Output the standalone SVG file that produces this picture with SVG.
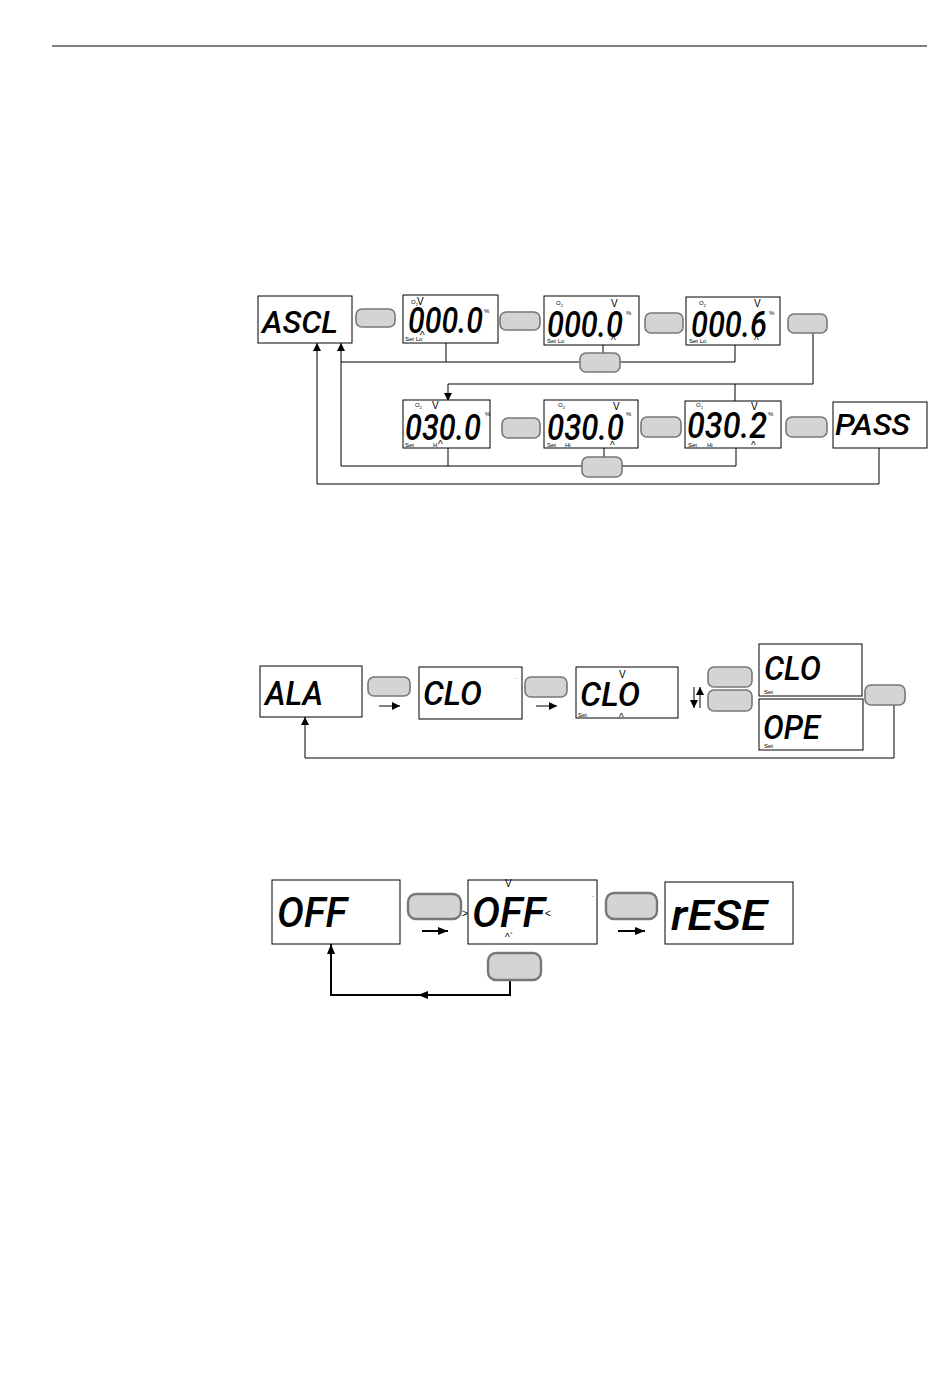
<svg xmlns="http://www.w3.org/2000/svg" width="950" height="1387" viewBox="0 0 950 1387">
<style>
.box{fill:#fff;stroke:#000;stroke-width:1}
.btn{fill:#d4d4d4;stroke:#777;stroke-width:1.6}
.btn3{fill:#d4d4d4;stroke:#777;stroke-width:2.4}
.seg{font-family:Roboto,"Liberation Sans",sans-serif;font-style:italic;font-weight:500;fill:#000}
.sm{font-family:"Liberation Sans",Arial,sans-serif;font-size:6px;fill:#000}
.mk{font-family:"Liberation Sans",Arial,sans-serif;font-size:10px;fill:#000}
.ln{fill:none;stroke:#000;stroke-width:1}
.ln2{fill:none;stroke:#000;stroke-width:2}
</style>
<defs>
<marker id="ah" viewBox="0 0 10 10" refX="10" refY="5" markerWidth="8" markerHeight="8" markerUnits="userSpaceOnUse" orient="auto"><path d="M0,0 L10,5 L0,10 z" fill="#000"/></marker>
<marker id="ah2" viewBox="0 0 10 10" refX="10" refY="5" markerWidth="10" markerHeight="10" markerUnits="userSpaceOnUse" orient="auto"><path d="M0,1 L10,5 L0,9 z" fill="#000"/></marker>
</defs>
<line x1="52" y1="46" x2="927" y2="46" stroke="#000" stroke-width="1"/>

<!-- Section 1 connectors -->
<g id="connectors1">
<polyline class="ln" points="446,343 446,362 579,362"/>
<polyline class="ln" points="341,362 446,362"/>
<line class="ln" x1="341" y1="362" x2="341" y2="343" marker-end="url(#ah)"/>
<line class="ln" x1="603" y1="345" x2="603" y2="353"/>
<polyline class="ln" points="735,345 735,362 620,362"/>
<polyline class="ln" points="813,333 813,384 448,384"/>
<line class="ln" x1="448" y1="384" x2="448" y2="401" marker-end="url(#ah)"/>
<line class="ln" x1="735" y1="384" x2="735" y2="401"/>
<polyline class="ln" points="448,448 448,466 341,466 341,362"/>
<line class="ln" x1="448" y1="466" x2="582" y2="466"/>
<line class="ln" x1="604" y1="448" x2="604" y2="457"/>
<polyline class="ln" points="736,448 736,466 622,466"/>
<polyline class="ln" points="879,448 879,484 317,484"/>
<line class="ln" x1="317" y1="484" x2="317" y2="343" marker-end="url(#ah)"/>
</g>

<g id="n-ascl"><rect class="box" x="258" y="296" width="94" height="47"/>
<text class="seg" x="262" y="333" font-size="32" textLength="76" lengthAdjust="spacingAndGlyphs">ASCL</text></g>
<g id="b1"><rect class="btn" x="356" y="309" width="39" height="18" rx="6"/></g>

<g id="n-lo1"><rect class="box" x="403" y="295" width="95" height="48"/>
<text class="seg" x="408" y="333" font-size="36" textLength="75" lengthAdjust="spacingAndGlyphs">000.0</text>
<text class="sm" x="411" y="304">O<tspan font-size="4" dy="1.5">2</tspan></text>
<text class="mk" x="417" y="305" font-size="8">V</text>
<text class="sm" x="484" y="313">%</text>
<text class="sm" x="405" y="341">Set Lo</text>
<text class="mk" x="420" y="339" font-size="7">^</text></g>
<g id="b2"><rect class="btn" x="500" y="312" width="40" height="18" rx="6"/></g>

<g id="n-lo2"><rect class="box" x="544" y="296" width="95" height="49"/>
<text class="seg" x="547" y="337" font-size="36" textLength="76" lengthAdjust="spacingAndGlyphs">000.0</text>
<text class="sm" x="556" y="305">O<tspan font-size="4" dy="1.5">2</tspan></text>
<text class="mk" x="611" y="307" font-size="10">V</text>
<text class="sm" x="626" y="315">%</text>
<text class="sm" x="547" y="343">Set Lo</text>
<text class="mk" x="611" y="344" font-size="10">^</text></g>
<g id="b3"><rect class="btn" x="645" y="313" width="38" height="20" rx="6"/></g>

<g id="n-lo3"><rect class="box" x="686" y="297" width="94" height="48"/>
<text class="seg" x="691" y="337" font-size="36" textLength="76" lengthAdjust="spacingAndGlyphs">000.6</text>
<text class="sm" x="699" y="305">O<tspan font-size="4" dy="1.5">2</tspan></text>
<text class="mk" x="754" y="307" font-size="10">V</text>
<text class="sm" x="769" y="315">%</text>
<text class="sm" x="689" y="343">Set Lo</text>
<text class="mk" x="754" y="344" font-size="10">^</text></g>
<g id="b4"><rect class="btn" x="788" y="314" width="39" height="19" rx="6"/></g>
<g id="b-lo"><rect class="btn" x="580" y="353" width="40" height="19" rx="6"/></g>

<g id="n-hi1"><rect class="box" x="403" y="400" width="87" height="48"/>
<text class="seg" x="405" y="440" font-size="36" textLength="76" lengthAdjust="spacingAndGlyphs">030.0</text>
<text class="sm" x="415" y="407">O<tspan font-size="4" dy="1.5">2</tspan></text>
<text class="mk" x="432" y="409" font-size="9">V</text>
<text class="sm" x="485" y="416">%</text>
<text class="sm" x="405" y="447">Set</text>
<text class="sm" x="433" y="447">H</text>
<text class="mk" x="438" y="448" font-size="8">^</text></g>
<g id="b5"><rect class="btn" x="502" y="418" width="38" height="20" rx="6"/></g>

<g id="n-hi2"><rect class="box" x="544" y="400" width="94" height="48"/>
<text class="seg" x="547" y="440" font-size="36" textLength="77" lengthAdjust="spacingAndGlyphs">030.0</text>
<text class="sm" x="558" y="407">O<tspan font-size="4" dy="1.5">2</tspan></text>
<text class="mk" x="613" y="410" font-size="10">V</text>
<text class="sm" x="626" y="416">%</text>
<text class="sm" x="547" y="447">Set</text>
<text class="sm" x="565" y="447">Hi</text>
<text class="mk" x="610" y="449" font-size="10">^</text></g>
<g id="b6"><rect class="btn" x="641" y="417" width="40" height="20" rx="6"/></g>

<g id="n-hi3"><rect class="box" x="685" y="401" width="96" height="47"/>
<text class="seg" x="687" y="438" font-size="36" textLength="80" lengthAdjust="spacingAndGlyphs">030.2</text>
<text class="sm" x="696" y="407">O<tspan font-size="4" dy="1.5">2</tspan></text>
<text class="mk" x="751" y="410" font-size="10">V</text>
<text class="sm" x="768" y="416">%</text>
<text class="sm" x="688" y="447">Set</text>
<text class="sm" x="707" y="447">Hi</text>
<text class="mk" x="751" y="449" font-size="10">^</text></g>
<g id="b7"><rect class="btn" x="786" y="417" width="41" height="20" rx="6"/></g>
<g id="b-hi"><rect class="btn" x="582" y="457" width="40" height="20" rx="6"/></g>

<g id="n-pass"><rect class="box" x="833" y="402" width="94" height="46"/>
<text class="seg" x="835" y="435" font-size="30" textLength="75" lengthAdjust="spacingAndGlyphs">PASS</text></g>

<!-- Section 2 -->
<g id="connectors2">
<polyline class="ln" points="894,705 894,758 305,758"/>
<line class="ln" x1="305" y1="758" x2="305" y2="717" marker-end="url(#ah)"/>
<line class="ln" x1="379" y1="706" x2="400" y2="706" marker-end="url(#ah)"/>
<line class="ln" x1="536" y1="706" x2="557" y2="706" marker-end="url(#ah)"/>
<line class="ln" x1="694" y1="687" x2="694" y2="708" marker-end="url(#ah)"/>
<line class="ln" x1="700" y1="708" x2="700" y2="687" marker-end="url(#ah)"/>
</g>
<g id="n-ala"><rect class="box" x="260" y="666" width="102" height="51"/>
<text class="seg" x="265" y="705" font-size="34" textLength="58" lengthAdjust="spacingAndGlyphs">ALA</text></g>
<g id="b8"><rect class="btn" x="368" y="677" width="42" height="19" rx="6"/></g>
<g id="n-clo1"><rect class="box" x="419" y="667" width="103" height="52"/>
<text class="seg" x="423" y="705" font-size="34" textLength="59" lengthAdjust="spacingAndGlyphs">CLO</text>
<text class="sm" x="515" y="682">`</text></g>
<g id="b9"><rect class="btn" x="525" y="677" width="42" height="20" rx="6"/></g>
<g id="n-clo2"><rect class="box" x="576" y="667" width="102" height="51"/>
<text class="seg" x="580" y="706" font-size="34" textLength="60" lengthAdjust="spacingAndGlyphs">CLO</text>
<text class="mk" x="619" y="678" font-size="10">V</text>
<text class="mk" x="619" y="721" font-size="10">^</text>
<text class="sm" x="578" y="717">Set</text></g>
<g id="b10"><rect class="btn" x="708" y="667" width="44" height="20" rx="6"/><rect class="btn" x="708" y="690" width="44" height="21" rx="6"/></g>
<g id="n-clo3"><rect class="box" x="759" y="644" width="103" height="52"/>
<text class="seg" x="764" y="680" font-size="34" textLength="57" lengthAdjust="spacingAndGlyphs">CLO</text>
<text class="sm" x="764" y="694">Set</text></g>
<g id="n-ope"><rect class="box" x="759" y="699" width="104" height="51"/>
<text class="seg" x="763" y="739" font-size="34" textLength="57" lengthAdjust="spacingAndGlyphs">OPE</text>
<text class="sm" x="764" y="748">Set</text></g>
<g id="b11"><rect class="btn" x="865" y="685" width="40" height="20" rx="6"/></g>

<!-- Section 3 -->
<g id="connectors3">
<polyline class="ln2" points="510,980 510,995 420,995"/>
<line class="ln2" x1="431" y1="995" x2="418" y2="995" marker-end="url(#ah2)"/>
<polyline class="ln2" points="420,995 331,995 331,955"/>
<line class="ln2" x1="331" y1="960" x2="331" y2="944" marker-end="url(#ah2)"/>
<line class="ln2" x1="422" y1="931" x2="448" y2="931" marker-end="url(#ah2)"/>
<line class="ln2" x1="618" y1="931" x2="645" y2="931" marker-end="url(#ah2)"/>
</g>
<g id="n-off1"><rect class="box" x="272" y="880" width="128" height="64"/>
<text class="seg" x="277" y="927" font-size="42" textLength="70" lengthAdjust="spacingAndGlyphs">OFF</text></g>
<g id="b12"><rect class="btn3" x="408" y="894" width="53" height="25" rx="8"/></g>
<g id="n-off2"><rect class="box" x="468" y="880" width="129" height="64"/>
<text class="seg" x="472" y="927" font-size="42" textLength="73" lengthAdjust="spacingAndGlyphs">OFF</text>
<text class="mk" x="462" y="917" font-size="12">&gt;</text>
<text class="mk" x="545" y="917" font-size="12">&lt;</text>
<text class="mk" x="505" y="887" font-size="10">V</text>
<text class="mk" x="505" y="941" font-size="10">^`</text>
<text class="sm" x="592" y="900">`</text></g>
<g id="b13"><rect class="btn3" x="606" y="893" width="51" height="26" rx="8"/></g>
<g id="n-rese"><rect class="box" x="665" y="882" width="128" height="62"/>
<text class="seg" x="671" y="930" font-size="42" textLength="96" lengthAdjust="spacingAndGlyphs">rESE</text></g>
<g id="b14"><rect class="btn3" x="488" y="953" width="53" height="27" rx="8"/></g>
</svg>
